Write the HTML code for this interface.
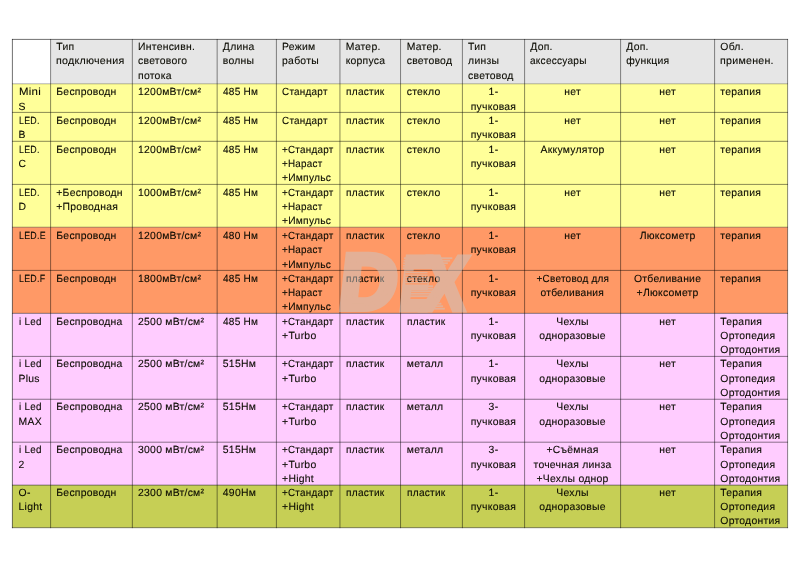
<!DOCTYPE html>
<html lang="ru">
<head>
<meta charset="utf-8">
<title>Сравнительная таблица ламп</title>
<style>
html,body{margin:0;padding:0;background:#fff;}
body{width:800px;height:564px;position:relative;overflow:hidden;font-family:"Liberation Sans",sans-serif;font-size:10.4px;line-height:14.33px;color:#0a0a00;-webkit-text-stroke:0.1px #0a0a00;text-rendering:geometricPrecision;letter-spacing:0.25px;}
#grid{position:absolute;left:0;top:0;width:800px;height:564px;}
.c{position:absolute;white-space:pre;}
.m{text-align:center;}
.l,.l2{display:inline-block;letter-spacing:.3px;transform-origin:0 50%;transform:scaleX(0.853);}
.s{display:inline-block;}
.l2{transform:scaleX(0.95);}
#wm{position:absolute;left:0;top:0;width:800px;height:564px;pointer-events:none;}
</style>
</head>
<body>
<svg id="grid" width="800" height="564" viewBox="0 0 800 564">
<rect x="12.4" y="39.4" width="775.2" height="44.4" fill="#e6e6e6"/>
<rect x="12.4" y="83.8" width="775.2" height="143.4" fill="#ffff99"/>
<rect x="12.4" y="227.2" width="775.2" height="86.15" fill="#ff9966"/>
<rect x="12.4" y="313.35" width="775.2" height="171.8" fill="#ffccff"/>
<rect x="12.4" y="485.15" width="775.2" height="42.55" fill="#c6cf55"/>
<rect x="12.4" y="39.4" width="38.2" height="44.4" fill="#ffffff"/>
<line x1="12.4" y1="38.975" x2="12.4" y2="528.125" stroke="#000" stroke-opacity="0.65" stroke-width="0.85"/>
<line x1="50.6" y1="38.975" x2="50.6" y2="528.125" stroke="#000" stroke-opacity="0.55" stroke-width="0.85"/>
<line x1="132.35" y1="38.975" x2="132.35" y2="528.125" stroke="#000" stroke-opacity="0.55" stroke-width="0.85"/>
<line x1="217.15" y1="38.975" x2="217.15" y2="528.125" stroke="#000" stroke-opacity="0.55" stroke-width="0.85"/>
<line x1="276.4" y1="38.975" x2="276.4" y2="528.125" stroke="#000" stroke-opacity="0.55" stroke-width="0.85"/>
<line x1="339.95" y1="38.975" x2="339.95" y2="528.125" stroke="#000" stroke-opacity="0.55" stroke-width="0.85"/>
<line x1="400.55" y1="38.975" x2="400.55" y2="528.125" stroke="#000" stroke-opacity="0.55" stroke-width="0.85"/>
<line x1="462.4" y1="38.975" x2="462.4" y2="528.125" stroke="#000" stroke-opacity="0.55" stroke-width="0.85"/>
<line x1="524.6" y1="38.975" x2="524.6" y2="528.125" stroke="#000" stroke-opacity="0.55" stroke-width="0.85"/>
<line x1="620.6" y1="38.975" x2="620.6" y2="528.125" stroke="#000" stroke-opacity="0.55" stroke-width="0.85"/>
<line x1="714.6" y1="38.975" x2="714.6" y2="528.125" stroke="#000" stroke-opacity="0.55" stroke-width="0.85"/>
<line x1="787.6" y1="38.975" x2="787.6" y2="528.125" stroke="#000" stroke-opacity="0.55" stroke-width="0.85"/>
<line x1="11.975" y1="39.4" x2="788.025" y2="39.4" stroke="#000" stroke-opacity="0.65" stroke-width="0.85"/>
<line x1="11.975" y1="83.8" x2="788.025" y2="83.8" stroke="#000" stroke-opacity="0.35" stroke-width="0.85"/>
<line x1="11.975" y1="112.4" x2="788.025" y2="112.4" stroke="#000" stroke-opacity="0.55" stroke-width="0.85"/>
<line x1="11.975" y1="141.3" x2="788.025" y2="141.3" stroke="#000" stroke-opacity="0.55" stroke-width="0.85"/>
<line x1="11.975" y1="184.4" x2="788.025" y2="184.4" stroke="#000" stroke-opacity="0.55" stroke-width="0.85"/>
<line x1="11.975" y1="227.2" x2="788.025" y2="227.2" stroke="#000" stroke-opacity="0.42" stroke-width="0.85"/>
<line x1="11.975" y1="270.4" x2="788.025" y2="270.4" stroke="#000" stroke-opacity="0.55" stroke-width="0.85"/>
<line x1="11.975" y1="313.35" x2="788.025" y2="313.35" stroke="#000" stroke-opacity="0.55" stroke-width="0.85"/>
<line x1="11.975" y1="356.4" x2="788.025" y2="356.4" stroke="#000" stroke-opacity="0.55" stroke-width="0.85"/>
<line x1="11.975" y1="399.25" x2="788.025" y2="399.25" stroke="#000" stroke-opacity="0.55" stroke-width="0.85"/>
<line x1="11.975" y1="442.2" x2="788.025" y2="442.2" stroke="#000" stroke-opacity="0.55" stroke-width="0.85"/>
<line x1="11.975" y1="485.15" x2="788.025" y2="485.15" stroke="#000" stroke-opacity="0.58" stroke-width="0.85"/>
<line x1="11.975" y1="527.7" x2="788.025" y2="527.7" stroke="#000" stroke-opacity="0.55" stroke-width="0.85"/>
</svg>
<div class="c" style="left:56.3px;top:41.0px">Тип<br><span class="s" style="transform:scaleX(1.027);transform-origin:0 50%">подключения</span></div>
<div class="c" style="left:138.05px;top:41.0px">Интенсивн.<br>светового<br>потока</div>
<div class="c" style="left:222.85px;top:41.0px">Длина<br>волны</div>
<div class="c" style="left:282.1px;top:41.0px">Режим<br>работы</div>
<div class="c" style="left:345.65px;top:41.0px">Матер.<br>корпуса</div>
<div class="c" style="left:406.75px;top:41.0px">Матер.<br>световод</div>
<div class="c" style="left:468.1px;top:41.0px">Тип<br>линзы<br>световод</div>
<div class="c" style="left:530.3px;top:41.0px">Доп.<br><span class="s" style="transform:scaleX(0.97);transform-origin:0 50%">аксессуары</span></div>
<div class="c" style="left:626.3px;top:41.0px">Доп.<br>функция</div>
<div class="c" style="left:720.3px;top:41.0px">Обл.<br><span class="s" style="transform:scaleX(1.024);transform-origin:0 50%">применен.</span></div>
<div class="c" style="left:18.6px;top:86.4px"><span class="s" style="transform:scaleX(1.1);transform-origin:0 50%">Mini</span><br>S</div>
<div class="c" style="left:56.3px;top:86.4px">Беспроводн</div>
<div class="c" style="left:138.05px;top:86.4px">1200мВт/см²</div>
<div class="c" style="left:222.85px;top:86.4px"><span class="s" style="transform:scaleX(0.97);transform-origin:0 50%">485 Нм</span></div>
<div class="c" style="left:282.1px;top:86.4px"><span class="s" style="transform:scaleX(0.955);transform-origin:0 50%">Стандарт</span></div>
<div class="c" style="left:345.65px;top:86.4px"><span class="s" style="transform:scaleX(0.975);transform-origin:0 50%">пластик</span></div>
<div class="c" style="left:406.75px;top:86.4px">стекло</div>
<div class="c m" style="left:462.4px;top:86.4px;width:62.2px">1-<br>пучковая</div>
<div class="c m" style="left:524.6px;top:86.4px;width:96.0px">нет</div>
<div class="c m" style="left:620.6px;top:86.4px;width:94.0px">нет</div>
<div class="c" style="left:720.3px;top:86.4px">терапия</div>
<div class="c" style="left:18.6px;top:114.75px"><span class="l">LED.</span><br>B</div>
<div class="c" style="left:56.3px;top:114.75px">Беспроводн</div>
<div class="c" style="left:138.05px;top:114.75px">1200мВт/см²</div>
<div class="c" style="left:222.85px;top:114.75px"><span class="s" style="transform:scaleX(0.97);transform-origin:0 50%">485 Нм</span></div>
<div class="c" style="left:282.1px;top:114.75px"><span class="s" style="transform:scaleX(0.955);transform-origin:0 50%">Стандарт</span></div>
<div class="c" style="left:345.65px;top:114.75px"><span class="s" style="transform:scaleX(0.975);transform-origin:0 50%">пластик</span></div>
<div class="c" style="left:406.75px;top:114.75px">стекло</div>
<div class="c m" style="left:462.4px;top:114.75px;width:62.2px">1-<br>пучковая</div>
<div class="c m" style="left:524.6px;top:114.75px;width:96.0px">нет</div>
<div class="c m" style="left:620.6px;top:114.75px;width:94.0px">нет</div>
<div class="c" style="left:720.3px;top:114.75px">терапия</div>
<div class="c" style="left:18.6px;top:143.6px"><span class="l">LED.</span><br>C</div>
<div class="c" style="left:56.3px;top:143.6px">Беспроводн</div>
<div class="c" style="left:138.05px;top:143.6px">1200мВт/см²</div>
<div class="c" style="left:222.85px;top:143.6px"><span class="s" style="transform:scaleX(0.97);transform-origin:0 50%">485 Нм</span></div>
<div class="c" style="left:282.1px;top:143.6px"><span class="s" style="transform:scaleX(0.95);transform-origin:0 50%">+Стандарт</span><br><span class="s" style="transform:scaleX(0.95);transform-origin:0 50%">+Нараст</span><br><span class="s" style="transform:scaleX(0.985);transform-origin:0 50%">+Импульс</span></div>
<div class="c" style="left:345.65px;top:143.6px"><span class="s" style="transform:scaleX(0.975);transform-origin:0 50%">пластик</span></div>
<div class="c" style="left:406.75px;top:143.6px">стекло</div>
<div class="c m" style="left:462.4px;top:143.6px;width:62.2px">1-<br>пучковая</div>
<div class="c m" style="left:524.6px;top:143.6px;width:96.0px">Аккумулятор</div>
<div class="c m" style="left:620.6px;top:143.6px;width:94.0px">нет</div>
<div class="c" style="left:720.3px;top:143.6px">терапия</div>
<div class="c" style="left:18.6px;top:186.6px"><span class="l">LED.</span><br>D</div>
<div class="c" style="left:56.3px;top:186.6px">+Беспроводн<br>+Проводная</div>
<div class="c" style="left:138.05px;top:186.6px">1000мВт/см²</div>
<div class="c" style="left:222.85px;top:186.6px"><span class="s" style="transform:scaleX(0.97);transform-origin:0 50%">485 Нм</span></div>
<div class="c" style="left:282.1px;top:186.6px"><span class="s" style="transform:scaleX(0.95);transform-origin:0 50%">+Стандарт</span><br><span class="s" style="transform:scaleX(0.95);transform-origin:0 50%">+Нараст</span><br><span class="s" style="transform:scaleX(0.985);transform-origin:0 50%">+Импульс</span></div>
<div class="c" style="left:345.65px;top:186.6px"><span class="s" style="transform:scaleX(0.975);transform-origin:0 50%">пластик</span></div>
<div class="c" style="left:406.75px;top:186.6px">стекло</div>
<div class="c m" style="left:462.4px;top:186.6px;width:62.2px">1-<br>пучковая</div>
<div class="c m" style="left:524.6px;top:186.6px;width:96.0px">нет</div>
<div class="c m" style="left:620.6px;top:186.6px;width:94.0px">нет</div>
<div class="c" style="left:720.3px;top:186.6px">терапия</div>
<div class="c" style="left:18.6px;top:230.0px"><span class="l">LED.E</span></div>
<div class="c" style="left:56.3px;top:230.0px">Беспроводн</div>
<div class="c" style="left:138.05px;top:230.0px">1200мВт/см²</div>
<div class="c" style="left:222.85px;top:230.0px"><span class="s" style="transform:scaleX(0.97);transform-origin:0 50%">480 Нм</span></div>
<div class="c" style="left:282.1px;top:230.0px"><span class="s" style="transform:scaleX(0.95);transform-origin:0 50%">+Стандарт</span><br><span class="s" style="transform:scaleX(0.95);transform-origin:0 50%">+Нараст</span><br><span class="s" style="transform:scaleX(0.985);transform-origin:0 50%">+Импульс</span></div>
<div class="c" style="left:345.65px;top:230.0px"><span class="s" style="transform:scaleX(0.975);transform-origin:0 50%">пластик</span></div>
<div class="c" style="left:406.75px;top:230.0px">стекло</div>
<div class="c m" style="left:462.4px;top:230.0px;width:62.2px">1-<br>пучковая</div>
<div class="c m" style="left:524.6px;top:230.0px;width:96.0px">нет</div>
<div class="c m" style="left:620.6px;top:230.0px;width:94.0px">Люксометр</div>
<div class="c" style="left:720.3px;top:230.0px">терапия</div>
<div class="c" style="left:18.6px;top:272.7px"><span class="l">LED.F</span></div>
<div class="c" style="left:56.3px;top:272.7px">Беспроводн</div>
<div class="c" style="left:138.05px;top:272.7px">1800мВт/см²</div>
<div class="c" style="left:222.85px;top:272.7px"><span class="s" style="transform:scaleX(0.97);transform-origin:0 50%">485 Нм</span></div>
<div class="c" style="left:282.1px;top:272.7px"><span class="s" style="transform:scaleX(0.95);transform-origin:0 50%">+Стандарт</span><br><span class="s" style="transform:scaleX(0.95);transform-origin:0 50%">+Нараст</span><br><span class="s" style="transform:scaleX(0.985);transform-origin:0 50%">+Импульс</span></div>
<div class="c" style="left:345.65px;top:272.7px"><span class="s" style="transform:scaleX(0.975);transform-origin:0 50%">пластик</span></div>
<div class="c" style="left:406.75px;top:272.7px">стекло</div>
<div class="c m" style="left:462.4px;top:272.7px;width:62.2px">1-<br>пучковая</div>
<div class="c m" style="left:524.6px;top:272.7px;width:96.0px"><span class="s" style="transform:scaleX(0.96);transform-origin:50% 50%">+Световод для</span><br><span class="s" style="transform:scaleX(0.985);transform-origin:50% 50%">отбеливания</span></div>
<div class="c m" style="left:620.6px;top:272.7px;width:94.0px">Отбеливание<br>+Люксометр</div>
<div class="c" style="left:720.3px;top:272.7px">терапия</div>
<div class="c" style="left:18.6px;top:315.5px"><span class="l2">i Led</span></div>
<div class="c" style="left:56.3px;top:315.5px">Беспроводна</div>
<div class="c" style="left:138.05px;top:315.5px">2500 мВт/см²</div>
<div class="c" style="left:222.85px;top:315.5px"><span class="s" style="transform:scaleX(0.97);transform-origin:0 50%">485 Нм</span></div>
<div class="c" style="left:282.1px;top:315.5px"><span class="s" style="transform:scaleX(0.95);transform-origin:0 50%">+Стандарт</span><br>+Turbo</div>
<div class="c" style="left:345.65px;top:315.5px"><span class="s" style="transform:scaleX(0.975);transform-origin:0 50%">пластик</span></div>
<div class="c" style="left:406.75px;top:315.5px"><span class="s" style="transform:scaleX(0.975);transform-origin:0 50%">пластик</span></div>
<div class="c m" style="left:462.4px;top:315.5px;width:62.2px">1-<br>пучковая</div>
<div class="c m" style="left:524.6px;top:315.5px;width:96.0px">Чехлы<br>одноразовые</div>
<div class="c m" style="left:620.6px;top:315.5px;width:94.0px">нет</div>
<div class="c" style="left:720.3px;top:315.5px">Терапия<br>Ортопедия<br>Ортодонтия</div>
<div class="c" style="left:18.6px;top:358.4px"><span class="l2">i Led</span><br>Plus</div>
<div class="c" style="left:56.3px;top:358.4px">Беспроводна</div>
<div class="c" style="left:138.05px;top:358.4px">2500 мВт/см²</div>
<div class="c" style="left:222.85px;top:358.4px">515Нм</div>
<div class="c" style="left:282.1px;top:358.4px"><span class="s" style="transform:scaleX(0.95);transform-origin:0 50%">+Стандарт</span><br>+Turbo</div>
<div class="c" style="left:345.65px;top:358.4px"><span class="s" style="transform:scaleX(0.975);transform-origin:0 50%">пластик</span></div>
<div class="c" style="left:406.75px;top:358.4px">металл</div>
<div class="c m" style="left:462.4px;top:358.4px;width:62.2px">1-<br>пучковая</div>
<div class="c m" style="left:524.6px;top:358.4px;width:96.0px">Чехлы<br>одноразовые</div>
<div class="c m" style="left:620.6px;top:358.4px;width:94.0px">нет</div>
<div class="c" style="left:720.3px;top:358.4px">Терапия<br>Ортопедия<br>Ортодонтия</div>
<div class="c" style="left:18.6px;top:401.2px"><span class="l2">i Led</span><br>MAX</div>
<div class="c" style="left:56.3px;top:401.2px">Беспроводна</div>
<div class="c" style="left:138.05px;top:401.2px">2500 мВт/см²</div>
<div class="c" style="left:222.85px;top:401.2px">515Нм</div>
<div class="c" style="left:282.1px;top:401.2px"><span class="s" style="transform:scaleX(0.95);transform-origin:0 50%">+Стандарт</span><br>+Turbo</div>
<div class="c" style="left:345.65px;top:401.2px"><span class="s" style="transform:scaleX(0.975);transform-origin:0 50%">пластик</span></div>
<div class="c" style="left:406.75px;top:401.2px">металл</div>
<div class="c m" style="left:462.4px;top:401.2px;width:62.2px">3-<br>пучковая</div>
<div class="c m" style="left:524.6px;top:401.2px;width:96.0px">Чехлы<br>одноразовые</div>
<div class="c m" style="left:620.6px;top:401.2px;width:94.0px">нет</div>
<div class="c" style="left:720.3px;top:401.2px">Терапия<br>Ортопедия<br>Ортодонтия</div>
<div class="c" style="left:18.6px;top:444.3px"><span class="l2">i Led</span><br>2</div>
<div class="c" style="left:56.3px;top:444.3px">Беспроводна</div>
<div class="c" style="left:138.05px;top:444.3px">3000 мВт/см²</div>
<div class="c" style="left:222.85px;top:444.3px">515Нм</div>
<div class="c" style="left:282.1px;top:444.3px"><span class="s" style="transform:scaleX(0.95);transform-origin:0 50%">+Стандарт</span><br>+Turbo<br>+Hight</div>
<div class="c" style="left:345.65px;top:444.3px"><span class="s" style="transform:scaleX(0.975);transform-origin:0 50%">пластик</span></div>
<div class="c" style="left:406.75px;top:444.3px">металл</div>
<div class="c m" style="left:462.4px;top:444.3px;width:62.2px">3-<br>пучковая</div>
<div class="c m" style="left:524.6px;top:444.3px;width:96.0px">+Съёмная<br>точечная линза<br>+Чехлы однор</div>
<div class="c m" style="left:620.6px;top:444.3px;width:94.0px">нет</div>
<div class="c" style="left:720.3px;top:444.3px">Терапия<br>Ортопедия<br>Ортодонтия</div>
<div class="c" style="left:18.6px;top:486.8px">O-<br>Light</div>
<div class="c" style="left:56.3px;top:486.8px">Беспроводн</div>
<div class="c" style="left:138.05px;top:486.8px">2300 мВт/см²</div>
<div class="c" style="left:222.85px;top:486.8px">490Нм</div>
<div class="c" style="left:282.1px;top:486.8px"><span class="s" style="transform:scaleX(0.95);transform-origin:0 50%">+Стандарт</span><br>+Hight</div>
<div class="c" style="left:345.65px;top:486.8px"><span class="s" style="transform:scaleX(0.975);transform-origin:0 50%">пластик</span></div>
<div class="c" style="left:406.75px;top:486.8px"><span class="s" style="transform:scaleX(0.975);transform-origin:0 50%">пластик</span></div>
<div class="c m" style="left:462.4px;top:486.8px;width:62.2px">1-<br>пучковая</div>
<div class="c m" style="left:524.6px;top:486.8px;width:96.0px">Чехлы<br>одноразовые</div>
<div class="c m" style="left:620.6px;top:486.8px;width:94.0px">нет</div>
<div class="c" style="left:720.3px;top:486.8px">Терапия<br>Ортопедия<br>Ортодонтия</div>
<svg id="wm" width="800" height="564" viewBox="0 0 800 564">
<mask id="cut" maskUnits="userSpaceOnUse" x="0" y="0" width="800" height="564"><rect width="800" height="564" fill="#fff"/><rect x="405.5" y="271.5" width="22" height="13" fill="#000"/></mask>
<g mask="url(#cut)" opacity="0.5" fill="#c8c8c8" stroke="#c8c8c8" stroke-linejoin="miter" style="font-family:'Liberation Sans',sans-serif;font-weight:700;font-style:normal;letter-spacing:0;-webkit-text-stroke:0">
<text transform="translate(337 309) skewX(-6.5) scale(1.01 1)" font-size="79" stroke-width="6">D</text>
<text transform="translate(398 309.5) skewX(-6.5) scale(0.59 1)" font-size="77" stroke-width="5">E</text>
<text transform="translate(421 309.5) skewX(-6.5) scale(0.84 1)" font-size="77" stroke-width="5">X</text>
<rect x="403.9" y="257.30" width="48.4" height="1.8" stroke="none"/>
<rect x="403.6" y="259.80" width="46.5" height="1.8" stroke="none"/>
<rect x="403.3" y="262.30" width="44.5" height="1.8" stroke="none"/>
<rect x="403.0" y="264.80" width="42.5" height="1.8" stroke="none"/>
<rect x="402.8" y="267.30" width="40.6" height="1.8" stroke="none"/>
<rect x="402.7" y="285.30" width="30.3" height="1.8" stroke="none"/>
<rect x="402.4" y="287.80" width="30.6" height="1.8" stroke="none"/>
<rect x="402.1" y="290.30" width="30.9" height="1.8" stroke="none"/>
<rect x="401.8" y="292.80" width="31.2" height="1.8" stroke="none"/>
<rect x="401.6" y="295.30" width="31.4" height="1.8" stroke="none"/>
<rect x="433.3" y="295.30" width="3.2" height="1.8" stroke="none"/>
<rect x="431.4" y="297.80" width="6.8" height="1.8" stroke="none"/>
<rect x="429.5" y="300.30" width="10.3" height="1.8" stroke="none"/>
<rect x="427.6" y="302.80" width="13.8" height="1.8" stroke="none"/>
<rect x="425.8" y="305.30" width="17.3" height="1.8" stroke="none"/>
<rect x="423.9" y="307.80" width="20.9" height="1.8" stroke="none"/>
</g>
<g opacity="0.5" fill="#c8c8c8" stroke="#c8c8c8" stroke-linejoin="miter" style="font-family:'Liberation Sans',sans-serif;font-weight:700;font-style:normal;letter-spacing:0;-webkit-text-stroke:0">
<rect x="405.5" y="272.00" width="22.0" height="1.25" stroke="none"/>
<rect x="405.5" y="274.50" width="22.0" height="1.25" stroke="none"/>
<rect x="405.5" y="277.00" width="22.0" height="1.25" stroke="none"/>
<rect x="405.5" y="279.50" width="22.0" height="1.25" stroke="none"/>
<rect x="405.5" y="282.00" width="22.0" height="1.25" stroke="none"/>
</g>
</svg>
</body>
</html>
